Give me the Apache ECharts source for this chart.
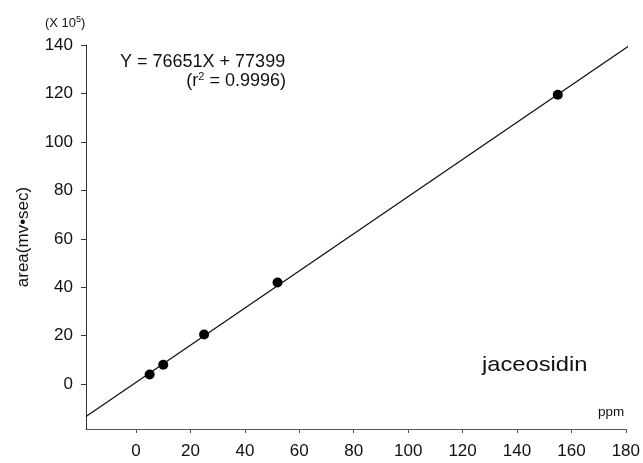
<!DOCTYPE html>
<html>
<head>
<meta charset="utf-8">
<script src="https://cdn.jsdelivr.net/npm/echarts@6/dist/echarts.min.js"></script>
<style>
  html, body { margin: 0; padding: 0; background: #fff; }
  #main { width: 643px; height: 463px; }
</style>
</head>
<body>
<div id="main"></div>
<script>
var dom = document.getElementById("main");
var myChart = echarts.init(dom);

// measured points (ppm, area x 10^5)
var conc = [5, 10, 25, 52, 155];
var area = [4, 8, 20.5, 42, 119.5];

// regression Y = 76651X + 77399, in units of 10^5
var slope = 0.76651;
var intercept = 0.77399;
var fitRange = [-18.4, 181];

var xTicks = [0, 20, 40, 60, 80, 100, 120, 140, 160, 180];
var yTicks = [0, 20, 40, 60, 80, 100, 120, 140];

var points = conc.map(function (c, i) { return [c, area[i]]; });
var fitLine = fitRange.map(function (x) { return [x, slope * x + intercept]; });

var font = 'Liberation Sans, Arial, sans-serif';

option = {
    backgroundColor: '#fff',
    animation: false,
    grid: { left: 86, right: 17, top: 45, bottom: 34 },
    xAxis: {
        type: 'value',
        min: -18.4,
        max: 180,
        splitLine: { show: false },
        axisLine: { onZero: false, lineStyle: { color: '#555', width: 1 } },
        axisTick: { customValues: xTicks, length: 4, lineStyle: { color: '#555' } },
        axisLabel: { customValues: xTicks, color: '#111', fontSize: 17, fontFamily: font, margin: 14 }
    },
    yAxis: {
        type: 'value',
        min: -18.5,
        max: 140,
        name: 'area(mv•sec)',
        nameLocation: 'middle',
        nameGap: 54,
        nameTextStyle: { color: '#111', fontSize: 17, fontFamily: font },
        splitLine: { show: false },
        axisLine: { onZero: false, lineStyle: { color: '#333', width: 1 } },
        axisTick: { customValues: yTicks, length: 5, lineStyle: { color: '#333' } },
        axisLabel: { customValues: yTicks, color: '#111', fontSize: 17, fontFamily: font, margin: 13 }
    },
    series: [
        {
            type: 'line',
            data: fitLine,
            symbol: 'none',
            clip: false,
            lineStyle: { color: '#111', width: 1.3 },
            z: 2
        },
        {
            type: 'scatter',
            data: points,
            symbol: 'circle',
            symbolSize: 10,
            itemStyle: { color: '#000', opacity: 1 },
            z: 3
        }
    ],
    graphic: [
        {
            type: 'text', left: 45, top: 15,
            style: {
                text: '(X 10{s|5})',
                rich: { s: { fontSize: 9, verticalAlign: 'top', padding: [0, 0, 7, 0], fontFamily: font, fill: '#111' } },
                fontSize: 13, fontFamily: font, fill: '#111'
            }
        },
        {
            type: 'text', left: 120, top: 53,
            style: { text: 'Y = 76651X + 77399', fontSize: 18, fontFamily: font, fill: '#111' }
        },
        {
            type: 'text', right: 357, top: 71,
            style: {
                text: '(r{s|2} = 0.9996)',
                rich: { s: { fontSize: 11, verticalAlign: 'top', padding: [0, 0, 9, 0], fontFamily: font, fill: '#111' } },
                fontSize: 18, fontFamily: font, fill: '#111'
            }
        },
        {
            type: 'text', x: 482, y: 355, scaleX: 1.13,
            style: { text: 'jaceosidin', fontSize: 21, fontFamily: font, fill: '#111', verticalAlign: 'top' }
        },
        {
            type: 'text', left: 598, top: 405,
            style: { text: 'ppm', fontSize: 13.5, fontFamily: font, fill: '#111' }
        }
    ]
};

if (option && typeof option === "object") {
    myChart.setOption(option, true);
}
</script>
</body>
</html>
